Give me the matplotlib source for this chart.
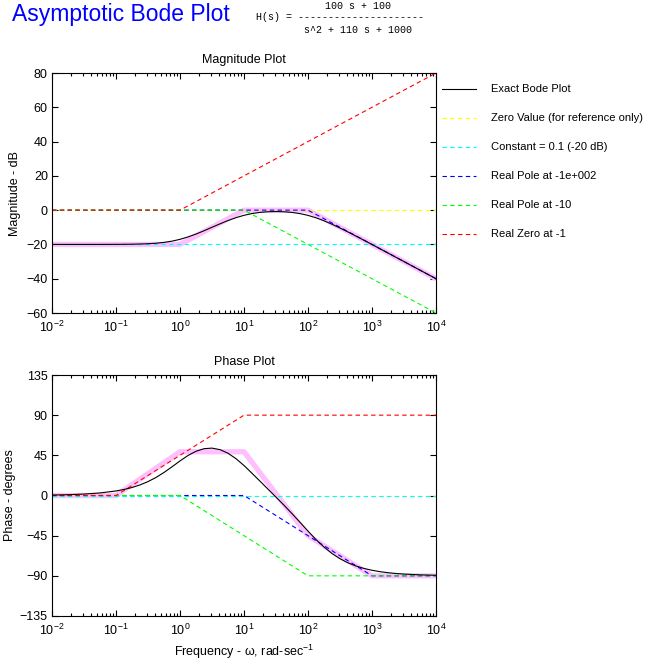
import matplotlib
matplotlib.use("Agg")
import matplotlib.pyplot as plt
from matplotlib.lines import Line2D
from matplotlib.ticker import NullFormatter

plt.rcParams['font.family'] = ['Liberation Sans', 'DejaVu Sans']
plt.rcParams['mathtext.default'] = 'regular'

# exact response
w_exact = [0.01, 0.0178, 0.0316, 0.0562, 0.1, 0.133, 0.178, 0.237, 0.316, 0.422,
           0.562, 0.75, 1.0, 1.33, 1.78, 2.37, 3.16, 4.22, 5.62, 7.5,
           10, 13.3, 17.8, 23.7, 31.6, 42.2, 56.2, 75, 100, 133,
           178, 237, 316, 422, 562, 750, 1000, 1330, 1780, 2370,
           3160, 5620, 10000]
mag_exact = [-20.0, -20.0, -20.0, -19.99, -19.96, -19.92, -19.87, -19.76, -19.59, -19.30,
             -18.82, -18.09, -17.03, -15.64, -13.94, -12.03, -10.00, -7.98, -6.07, -4.39,
             -3.01, -1.99, -1.31, -0.94, -0.82, -0.95, -1.33, -2.01, -3.05, -4.46,
             -6.21, -8.22, -10.42, -12.74, -15.14, -17.58, -20.04, -22.52, -25.01, -27.51,
             -30.0, -35.0, -40.0]
phase_exact = [0.51, 0.91, 1.61, 2.86, 5.08, 6.76, 8.96, 11.85, 15.56, 20.21,
               25.81, 32.14, 38.72, 44.78, 49.55, 52.43, 53.09, 51.37, 47.35, 41.25,
               33.58, 24.97, 16.05, 7.12, -1.81, -10.89, -20.29, -30.02, -39.86, -49.28,
               -57.75, -64.96, -70.82, -75.44, -79.00, -81.71, -83.77, -85.32, -86.49, -87.37,
               -88.03, -88.89, -89.38]

# asymptotes (corner frequencies and values)
w_flat = [0.01, 10000]
mag_zero_value = [0, 0]
mag_const = [-20, -20]
w_mag_p100 = [0.01, 100, 10000]
mag_p100 = [0, 0, -40]
w_mag_p10 = [0.01, 10, 10000]
mag_p10 = [0, 0, -60]
w_mag_z1 = [0.01, 1, 10000]
mag_z1 = [0, 0, 80]
w_mag_total = [0.01, 1, 10, 100, 10000]
mag_total = [-20, -20, 0, 0, -40]

ph_zero_value = [0, 0]
ph_const = [0, 0]
w_ph_p100 = [0.01, 10, 1000, 10000]
ph_p100 = [0, 0, -90, -90]
w_ph_p10 = [0.01, 1, 100, 10000]
ph_p10 = [0, 0, -90, -90]
w_ph_z1 = [0.01, 0.1, 10, 10000]
ph_z1 = [0, 0, 90, 90]
w_ph_total = [0.01, 0.1, 1, 10, 100, 1000, 10000]
ph_total = [0, 0, 49, 49, -45, -90, -90]

decades = [0.01, 0.1, 1, 10, 100, 1000, 10000]
labels = ['Exact Bode Plot', 'Zero Value (for reference only)', 'Constant = 0.1 (-20 dB)',
          'Real Pole at -1e+002', 'Real Pole at -10', 'Real Zero at -1']
colors = ['black', '#FFFF00', '#00FFFF', '#0000FF', '#00FF00', '#FF0000']

W, H = 648, 660
fig = plt.figure(figsize=(W / 100, H / 100), dpi=100)

def px(x, y):
    return x / W, 1 - y / H

ax1 = fig.add_axes([52 / W, 1 - 313 / H, 384 / W, 240 / H])
ax2 = fig.add_axes([52 / W, 1 - 616 / H, 384 / W, 241 / H])

dash = dict(lw=0.8, dashes=(4, 3))
pink = dict(color='#FFBFFF', lw=3.8, solid_capstyle='butt')

# magnitude
ax1.semilogx(w_mag_total, mag_total, **pink)
ax1.semilogx(w_flat, mag_zero_value, color=colors[1], **dash)
ax1.semilogx(w_flat, mag_const, color=colors[2], **dash)
ax1.semilogx(w_mag_p100, mag_p100, color=colors[3], **dash)
ax1.semilogx(w_mag_p10, mag_p10, color=colors[4], **dash)
ax1.semilogx(w_mag_z1, mag_z1, color=colors[5], **dash)
ax1.semilogx(w_exact, mag_exact, color='black', lw=0.8)
ax1.set_ylim(-60, 80)
ax1.set_yticks(range(-60, 81, 20))
ax1.set_ylabel('Magnitude - dB', fontsize=9, labelpad=4)
ax1.set_title('Magnitude Plot', fontsize=9, pad=7)

# phase
ax2.semilogx(w_ph_total, ph_total, **pink)
ax2.semilogx(w_flat, ph_zero_value, color=colors[1], **dash)
ax2.semilogx(w_flat, ph_const, color=colors[2], **dash)
ax2.semilogx(w_ph_p100, ph_p100, color=colors[3], **dash)
ax2.semilogx(w_ph_p10, ph_p10, color=colors[4], **dash)
ax2.semilogx(w_ph_z1, ph_z1, color=colors[5], **dash)
ax2.semilogx(w_exact, phase_exact, color='black', lw=0.8)
ax2.set_ylim(-135, 135)
ax2.set_yticks(range(-135, 136, 45))
ax2.set_ylabel('Phase - degrees', fontsize=9, labelpad=3)
ax2.set_title('Phase Plot', fontsize=9, pad=7)
ax2.set_xlabel(r'Frequency - ω, rad-sec$^{\mathdefault{-1}}$', fontsize=9, labelpad=3)

for ax in (ax1, ax2):
    ax.set_xlim(0.01, 10000)
    ax.set_xticks(decades)
    ax.xaxis.set_minor_formatter(NullFormatter())
    ax.tick_params(which='both', direction='in', top=True, right=True, labelsize=9, width=0.8)
    ax.tick_params(which='major', length=4, pad=3)
    ax.tick_params(axis='x', which='major', pad=5)
    ax.tick_params(which='minor', length=2)
    for s in ax.spines.values():
        s.set_linewidth(0.8)

# legend drawn beside the magnitude plot
rows = [89, 118, 147, 176, 205, 234]
for lab, col, y in zip(labels, colors, rows):
    x0, yy = px(442, y)
    x1, _ = px(476, y)
    if col == 'black':
        fig.add_artist(Line2D([x0, x1], [yy, yy], color=col, lw=0.8))
    else:
        fig.add_artist(Line2D([x0, x1], [yy, yy], color=col, **dash))
    fig.text(*px(491, y), lab, fontsize=8, va='center')

# heading and transfer function
fig.text(*px(12, 21), 'Asymptotic Bode Plot', color='#0000FF', fontsize=16.5, va='baseline')
mono = dict(family='Liberation Mono', fontsize=7.2, va='center')
fig.text(*px(256, 17), 'H(s) = ' + '-' * 21, **mono)
fig.text(*px(358, 6), '100 s + 100', ha='center', **mono)
fig.text(*px(358, 30), 's^2 + 110 s + 1000', ha='center', **mono)

fig.savefig('out.png', dpi=100)
